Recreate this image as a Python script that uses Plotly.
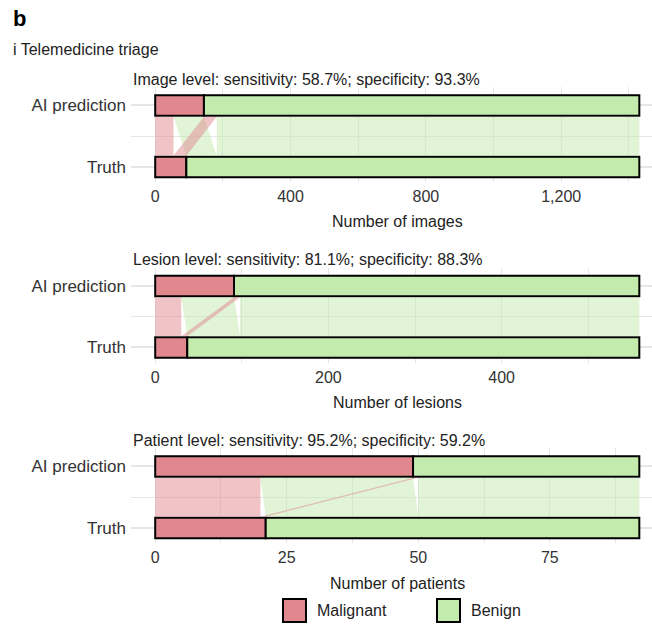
import numpy as np
import plotly.graph_objects as go

# Confusion counts per evaluation level (telemedicine triage)
levels = ["Image", "Lesion", "Patient"]
true_pos = [54, 30, 20]
false_neg = [38, 7, 1]
false_pos = [90, 61, 29]
true_neg = [1249, 461, 42]
sensitivity = [58.7, 81.1, 95.2]
specificity = [93.3, 88.3, 59.2]
axis_titles = ["Number of images", "Number of lesions", "Number of patients"]
major_step = [400, 200, 25]
row_labels = ["Truth", "AI prediction"]
classes = ["Malignant", "Benign"]

MAL = "#E1888E"
BEN = "#C3EBAE"
MAL_FLOW = "rgba(225,136,142,0.5)"
BEN_FLOW = "rgba(195,235,174,0.5)"
FONT = "Liberation Sans"
TEXT = "#222222"
TICK = "#333333"
GRID = "#E6E6E6"
FS = 16

W, H = 652, 625
PANEL_LEFT = 131
panel_tops = [87, 267.5, 448]
PANEL_H = 95
BAR_W = 1 / 3
Y_RANGE = [-0.244, 1.30]


def px_x(p):
    return p / W


def px_y(p):
    return 1 - p / H


def flow_polygon(b_lo, b_hi, t_lo, t_hi, y0, y1):
    # straight-sided ribbon between the Truth stratum and the AI stratum
    xs = [b_lo, t_lo, t_hi, b_hi, b_lo]
    ys = [y0, y1, y1, y0, y0]
    return xs, ys


fig = go.Figure()
annotations = []
layout_axes = {}

for i in range(3):
    n = i + 1
    xa = "x" if n == 1 else f"x{n}"
    ya = "y" if n == 1 else f"y{n}"
    tp, fn, fp, tn = true_pos[i], false_neg[i], false_pos[i], true_neg[i]
    total = tp + fn + fp + tn
    truth_mal = tp + fn
    ai_mal = tp + fp

    y0 = BAR_W / 2 + 0.016
    y1 = 1 - BAR_W / 2 - 0.016
    flows = [
        # (bottom lo, bottom hi, top lo, top hi, colour)
        (truth_mal + fp, total, ai_mal + fn, total, BEN_FLOW),  # true negatives
        (truth_mal, truth_mal + fp, tp, ai_mal, BEN_FLOW),       # false positives
        (0, tp, 0, tp, MAL_FLOW),                               # true positives
        (tp, truth_mal, ai_mal, ai_mal + fn, MAL_FLOW),          # false negatives
    ]
    for b_lo, b_hi, t_lo, t_hi, col in flows:
        xs, ys = flow_polygon(b_lo, b_hi, t_lo, t_hi, y0, y1)
        fig.add_trace(go.Scatter(
            x=xs, y=ys, mode="lines", fill="toself", fillcolor=col,
            line=dict(width=0), hoverinfo="skip", showlegend=False,
            xaxis=xa, yaxis=ya))

    # stacked strata: Truth at 0, AI prediction at 1
    mal_counts = [truth_mal, ai_mal]
    ben_counts = [total - truth_mal, total - ai_mal]
    fig.add_trace(go.Bar(
        y=[0, 1], x=mal_counts, base=[0, 0], orientation="h", width=BAR_W,
        marker=dict(color=MAL, line=dict(color="black", width=2)),
        name=classes[0], showlegend=False, xaxis=xa, yaxis=ya))
    fig.add_trace(go.Bar(
        y=[0, 1], x=ben_counts, base=mal_counts, orientation="h", width=BAR_W,
        marker=dict(color=BEN, line=dict(color="black", width=2)),
        name=classes[1], showlegend=False, xaxis=xa, yaxis=ya))

    top = panel_tops[i]
    bottom = top + PANEL_H
    step = major_step[i]
    majors = list(range(0, total + 1, step))
    minors = [m + step / 2 for m in majors]

    layout_axes["xaxis" if n == 1 else f"xaxis{n}"] = dict(
        domain=[px_x(PANEL_LEFT), 1],
        range=[-0.05 * total, 1.0262 * total],
        anchor=ya, tickmode="array", tickvals=majors, tickformat=",d",
        showgrid=True, gridcolor=GRID, gridwidth=1.2,
        minor=dict(tickmode="array", tickvals=minors, showgrid=True,
                   gridcolor=GRID, gridwidth=0.8),
        zeroline=False, showline=False, ticks="", ticklabelstandoff=3,
        tickfont=dict(family=FONT, size=FS, color=TICK),
        fixedrange=True)
    layout_axes["yaxis" if n == 1 else f"yaxis{n}"] = dict(
        domain=[px_y(bottom), px_y(top)],
        range=Y_RANGE, anchor=xa, tickmode="array", tickvals=[0, 1],
        ticktext=row_labels, showgrid=True, gridcolor=GRID, gridwidth=1.5,
        minor=dict(tickmode="array", tickvals=[0.5], showgrid=True,
                   gridcolor=GRID, gridwidth=1.2),
        zeroline=False, showline=False, ticks="", ticklabelstandoff=4,
        tickfont=dict(family=FONT, size=17, color=TICK),
        fixedrange=True)

    annotations.append(dict(
        text=f"{levels[i]} level: sensitivity: {sensitivity[i]}%; specificity: {specificity[i]}%",
        x=px_x(131), y=px_y(top - 8), xref="paper", yref="paper",
        xanchor="left", yanchor="middle", showarrow=False,
        font=dict(family=FONT, size=FS, color=TEXT)))
    annotations.append(dict(
        text=axis_titles[i], x=px_x(397), y=px_y(bottom + 40),
        xref="paper", yref="paper", xanchor="center", yanchor="middle",
        showarrow=False, font=dict(family=FONT, size=FS, color=TEXT)))

annotations.append(dict(text="<b>b</b>", x=px_x(11), y=px_y(18), xref="paper",
                        yref="paper", xanchor="left", yanchor="middle",
                        showarrow=False, font=dict(family=FONT, size=22, color="black")))
annotations.append(dict(text="i Telemedicine triage", x=px_x(11), y=px_y(49),
                        xref="paper", yref="paper", xanchor="left", yanchor="middle",
                        showarrow=False, font=dict(family=FONT, size=FS, color=TEXT)))

# legend keys
shapes = []
legend_items = [(classes[0], MAL, 283, 315), (classes[1], BEN, 437, 469)]
for label, col, box_x, text_x in legend_items:
    shapes.append(dict(type="rect", xref="paper", yref="paper",
                       x0=px_x(box_x), x1=px_x(box_x + 23),
                       y0=px_y(622), y1=px_y(599),
                       fillcolor=col, line=dict(color="black", width=2)))
    annotations.append(dict(text=label, x=px_x(text_x), y=px_y(610),
                            xref="paper", yref="paper", xanchor="left",
                            yanchor="middle", showarrow=False,
                            font=dict(family=FONT, size=FS, color=TEXT)))

fig.update_layout(
    width=W, height=H, margin=dict(l=0, r=0, t=0, b=0),
    paper_bgcolor="white", plot_bgcolor="white",
    barmode="overlay", showlegend=False,
    annotations=annotations, shapes=shapes,
    **layout_axes)

fig.write_html("out.html")
